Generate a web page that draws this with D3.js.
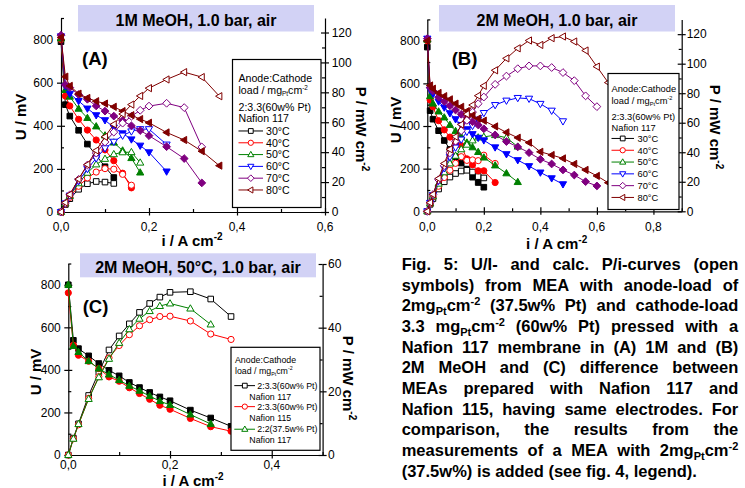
<!DOCTYPE html>
<html><head><meta charset="utf-8">
<script src="https://cdn.jsdelivr.net/npm/d3@7"></script>
<style>
body{margin:0;background:#fff;}
svg{display:block;font-family:Arial,"Liberation Sans",sans-serif;}
</style></head><body>
<svg id="c" width="745" height="488"></svg>
<script>
// ---------------- DATA ----------------
// Panel A: 1M MeOH, 1.0 bar, air  (i in A/cm2, U in mV, P in mW/cm2)
const iA30=[0,0.01,0.02,0.04,0.06,0.08,0.10,0.12];
const uA30=[790,498,445,379,315,262,210,160];
const pA30=[0,5.0,8.9,15.2,18.9,20.4,20.0,19.1];
const iA40=[0,0.01,0.02,0.04,0.06,0.08,0.10,0.12,0.14,0.16];
const uA40=[800,538,492,430,380,334,288,238,180,112];
const pA40=[0,5.4,9.8,17.2,22.8,26.7,29.0,28.6,25.2,17.9];
const iA50=[0,0.01,0.02,0.04,0.06,0.08,0.10,0.12,0.14,0.16,0.18];
const uA50=[805,566,535,479,436,397,355,322,285,250,183];
const pA50=[0,5.7,10.7,19.2,26.2,31.8,35.5,38.6,39.9,40.0,33.0];
const iA60=[0,0.01,0.02,0.04,0.06,0.08,0.10,0.12,0.14,0.16,0.18,0.20,0.24];
const uA60=[815,583,548,515,480,449,426,392,365,337,308,277,188];
const pA60=[0,5.8,11.0,20.6,28.8,35.9,42.6,47.0,51.1,53.9,55.4,55.4,45.1];
const iA70=[0,0.01,0.02,0.04,0.06,0.08,0.10,0.12,0.14,0.16,0.18,0.20,0.24,0.28,0.32];
const uA70=[820,590,577,545,523,492,468,445,424,400,378,354,303,248,135];
const pA70=[0,5.9,11.5,21.8,31.4,39.4,46.8,53.4,59.4,64.0,68.0,70.8,72.7,69.8,43.5];
const iA80=[0,0.01,0.02,0.04,0.06,0.08,0.10,0.12,0.14,0.16,0.18,0.20,0.24,0.28,0.32,0.36];
const uA80=[810,628,585,549,529,514,503,488,468,449,431,414,369,334,282,215];
const pA80=[0,6.3,11.7,22.0,31.7,41.1,50.3,58.6,65.5,71.8,77.6,82.8,88.6,93.5,90.2,77.4];

// Panel B: 2M MeOH, 1.0 bar, air
const iB30=[0,0.01,0.02,0.04,0.06,0.08,0.10,0.12,0.14,0.16,0.18,0.20];
const uB30=[770,472,432,378,332,290,256,226,198,160,135,113];
const pB30=[0,4.7,8.6,15.1,20.0,23.2,25.6,27.3,27.8,26.6,23.5,22.6];
const iB40=[0,0.01,0.02,0.04,0.06,0.08,0.10,0.12,0.14,0.16,0.18,0.20,0.24];
const uB40=[800,522,490,425,382,348,325,308,246,218,190,190,135];
const pB40=[0,5.2,9.8,17.0,22.9,27.8,32.5,37.0,34.5,34.8,34.3,38.0,32.4];
const iB50=[0,0.01,0.02,0.04,0.06,0.08,0.10,0.12,0.14,0.16,0.18,0.20,0.24,0.28,0.32];
const uB50=[805,540,505,468,440,405,376,350,322,300,278,252,215,178,137];
const pB50=[0,5.4,10.1,18.7,26.4,32.4,37.6,42.0,45.1,48.0,50.0,50.4,51.6,49.8,43.8];
const iB60=[0,0.01,0.02,0.04,0.06,0.08,0.10,0.12,0.14,0.16,0.18,0.20,0.24,0.28,0.32,0.36,0.40,0.44,0.48];
const uB60=[810,570,552,515,487,460,432,405,385,362,345,333,300,268,240,212,182,155,127];
const pB60=[0,5.7,11.0,20.6,29.2,36.8,43.2,48.6,53.9,57.9,62.1,66.6,72.0,75.0,76.8,76.3,72.8,68.2,61.0];
const iB70=[0,0.01,0.02,0.04,0.06,0.08,0.10,0.12,0.14,0.16,0.18,0.20,0.24,0.28,0.32,0.36,0.40,0.44,0.48,0.52,0.56,0.60];
const uB70=[810,580,565,535,515,495,475,455,440,420,405,387,358,327,302,275,244,222,194,170,139,119];
const pB70=[0,5.8,11.3,21.4,30.9,39.6,47.5,54.6,61.6,67.2,72.9,77.4,86.0,91.6,96.6,98.5,98.5,97.4,94.0,88.5,78.2,70.9];
const iB80=[0,0.01,0.02,0.04,0.06,0.08,0.10,0.12,0.14,0.16,0.18,0.20,0.24,0.28,0.32,0.36,0.40,0.44,0.48,0.52,0.56,0.60,0.64];
const uB80=[800,590,575,555,540,525,505,490,470,450,435,425,398,370,345,322,279,264,248,222,194,166,134];
const pB80=[0,5.9,11.5,22.2,32.4,42.0,50.5,58.8,65.8,72.0,78.3,85.0,95.5,103.6,110.4,115.7,112.7,117.3,118.4,115.0,108.9,98.0,87.2];

// Panel C: 2M MeOH, 50°C, 1.0 bar, air
const iC1=[0,0.01,0.02,0.04,0.06,0.08,0.10,0.12,0.14,0.16,0.18,0.20,0.24,0.28,0.32];
const uC1=[800,539,500,466,430,398,372,341,317,294,273,255,211,174,135];
const pC1=[0,5.3,9.8,18.7,26.0,33.0,37.4,41.2,44.8,47.6,49.6,51.1,51.3,49.0,43.5];
const iC2=[0,0.01,0.02,0.04,0.06,0.08,0.10,0.12,0.14,0.16,0.18,0.20,0.24,0.28,0.32];
const uC2=[762,516,469,441,406,367,347,316,289,262,234,215,172,133,112];
const pC2=[0,5.1,9.5,17.8,24.6,30.5,34.4,37.8,40.6,42.5,43.5,43.6,42.1,38.0,36.3];
const iC3=[0,0.01,0.02,0.04,0.06,0.08,0.10,0.12,0.14,0.16,0.18,0.20,0.24,0.28];
const uC3=[800,512,484,441,406,378,352,325,302,277,253,235,190,146];
const pC3=[0,5.1,9.7,17.6,24.4,30.2,35.2,39.5,42.8,45.2,46.8,47.6,46.0,41.0];

const tempLabels=["30°C","40°C","50°C","60°C","70°C","80°C"];
const cLabels=["2:3.3(60w% Pt)","2:3.3(60w% Pt)","2:2(37.5w% Pt)"];
const cMembranes=["Nafion 117","Nafion 115","Nafion 117"];

const xTicksA=[0,0.2,0.4,0.6], xMinorA=[0.1,0.3,0.5];
const xTicksB=[0,0.2,0.4,0.6,0.8], xMinorB=[0.1,0.3,0.5,0.7,0.9];
const xTicksC=[0,0.2,0.4], xMinorC=[0.1,0.3,0.5];
const uTicks=[0,200,400,600,800], uMinor=[100,300,500,700,900];
const pTicksAB=[0,20,40,60,80,100,120], pMinorAB=[10,30,50,70,90,110];
const pTicksC=[0,20,40,60], pMinorC=[10,30,50];

const captionLines=[
 "Fig. 5: U/I- and calc. P/i-curves (open",
 "symbols) from MEA with anode-load of",
 "2mg_{Pt}cm^{-2} (37.5w% Pt) and cathode-load",
 "3.3 mg_{Pt}cm^{-2} (60w% Pt) pressed with a",
 "Nafion 117 membrane in (A) 1M and (B)",
 "2M MeOH and (C) difference between",
 "MEAs prepared  with Nafion 117 and",
 "Nafion 115, having same electrodes. For",
 "comparison,  the results from the",
 "measurements of a MEA with 2mg_{Pt}cm^{-2}",
 "(37.5w%) is added (see fig. 4, legend)."
];

// ---------------- STYLE ----------------
const colors=["#000000","#ff0000","#008000","#0000ff","#800080","#800000"];
const shapes=["square","circle","up","down","diamond","left"];
const FONT='Arial,"Liberation Sans",sans-serif';

const SYM={
 square:{draw(c,s){const r=2.8*s;c.rect(-r,-r,2*r,2*r);}},
 circle:{draw(c,s){const r=3.1*s;c.moveTo(r,0);c.arc(0,0,r,0,2*Math.PI);}},
 up:{draw(c,s){const r=3.8*s;c.moveTo(0,-r);c.lineTo(r*0.95,r*0.65);c.lineTo(-r*0.95,r*0.65);c.closePath();}},
 down:{draw(c,s){const r=3.8*s;c.moveTo(0,r);c.lineTo(r*0.95,-r*0.65);c.lineTo(-r*0.95,-r*0.65);c.closePath();}},
 left:{draw(c,s){const r=3.8*s;c.moveTo(-r,0);c.lineTo(r*0.65,-r*0.95);c.lineTo(r*0.65,r*0.95);c.closePath();}},
 diamond:{draw(c,s){const r=3.9*s;c.moveTo(0,-r);c.lineTo(r,0);c.lineTo(0,r);c.lineTo(-r,0);c.closePath();}}
};
const sym=(shape,s)=>d3.symbol().type(SYM[shape]).size(s)();

const svg=d3.select("#c");
const fmtX=d=>d3.format(".1f")(d).replace(".",",");

function parseRich(str){
  return str.split(/(_\{[^}]*\}|\^\{[^}]*\})/).filter(p=>p.length).map(p=>
    p.startsWith("_{")?{t:p.slice(2,-1),k:"sub"}:p.startsWith("^{")?{t:p.slice(2,-1),k:"sup"}:{t:p,k:"n"});
}
function richText(sel,str,subSize,subDy,supDy){
  let cur=0;
  parseRich(str).forEach(seg=>{
    const target=seg.k==="sub"?subDy:seg.k==="sup"?-supDy:0;
    const ts=sel.append("tspan").text(seg.t);
    if(target-cur!==0) ts.attr("dy",target-cur);
    if(seg.k!=="n") ts.attr("font-size",subSize);
    cur=target;
  });
  return sel;
}

function drawPanel(cfg){
  const g=svg.append("g");
  const xs=d3.scaleLinear().domain(cfg.xDom).range([cfg.x0,cfg.x1]);
  const yl=d3.scaleLinear().domain(cfg.yLDom).range([cfg.yb,cfg.yt]);
  const yr=d3.scaleLinear().domain(cfg.yRDom).range([cfg.yb,cfg.ytR]);

  // axes
  const ax=g.append("g");
  const noLab=()=>"";
  const bot=ax.append("g").attr("transform",`translate(0,${cfg.yb})`);
  bot.append("g").call(d3.axisBottom(xs).tickValues(cfg.xMaj).tickSize(3.5).tickSizeOuter(0).tickFormat(noLab));
  bot.append("g").call(d3.axisBottom(xs).tickValues(cfg.xMaj).tickSize(-4).tickFormat(noLab)).select(".domain").remove();
  bot.append("g").call(d3.axisBottom(xs).tickValues(cfg.xMin).tickSize(-3).tickFormat(noLab)).select(".domain").remove();
  const lef=ax.append("g").attr("transform",`translate(${cfg.x0},0)`);
  lef.append("g").call(d3.axisLeft(yl).tickValues(cfg.yLMaj).tickSize(4).tickSizeOuter(0).tickFormat(noLab));
  lef.append("g").call(d3.axisLeft(yl).tickValues(cfg.yLMaj).tickSize(-4).tickFormat(noLab)).select(".domain").remove();
  lef.append("g").call(d3.axisLeft(yl).tickValues(cfg.yLMin).tickSize(-3).tickFormat(noLab)).select(".domain").remove();
  const rig=ax.append("g").attr("transform",`translate(${cfg.x1},0)`);
  rig.append("g").call(d3.axisRight(yr).tickValues(cfg.yRMaj).tickSize(4).tickSizeOuter(0).tickFormat(noLab));
  rig.append("g").call(d3.axisRight(yr).tickValues(cfg.yRMaj).tickSize(-4).tickFormat(noLab)).select(".domain").remove();
  rig.append("g").call(d3.axisRight(yr).tickValues(cfg.yRMin).tickSize(-3).tickFormat(noLab)).select(".domain").remove();
  ax.selectAll("path,line").attr("stroke","#000").attr("stroke-width",1.2);

  // tick labels
  const tl=g.append("g").attr("font-family",FONT).attr("font-size",12).attr("fill","#000");
  cfg.xMaj.forEach(v=>tl.append("text").attr("x",xs(v)).attr("y",cfg.yb+cfg.xLabOff).attr("text-anchor","middle").text(fmtX(v)));
  cfg.yLMaj.forEach(v=>tl.append("text").attr("x",cfg.x0-cfg.lGap).attr("y",yl(v)+4.3).attr("text-anchor","end").text(v));
  cfg.yRMaj.forEach(v=>tl.append("text").attr("x",cfg.x1+cfg.rGap).attr("y",yr(v)+4.3).attr("text-anchor","start").text(v));

  // axis titles
  const at=g.append("g").attr("font-family",FONT).attr("font-size",15).attr("font-weight","bold");
  at.append("text").attr("transform",`translate(${cfg.uLab[0]},${cfg.uLab[1]}) rotate(-90)`).attr("text-anchor","middle").text("U / mV");
  richText(at.append("text").attr("transform",`translate(${cfg.pLab[0]},${cfg.pLab[1]}) rotate(90)`).attr("text-anchor","middle"),"P / mW cm^{-2}",10,0,6);
  richText(at.append("text").attr("x",cfg.iLab[0]).attr("y",cfg.iLab[1]).attr("text-anchor","middle"),"i / A cm^{-2}",10,0,6);

  // data
  const dg=g.append("g");
  cfg.series.forEach(s=>{
    const lu=d3.line().x((d,k)=>xs(s.i[k])).y(d=>yl(d));
    const lp=d3.line().x((d,k)=>xs(s.i[k])).y(d=>yr(d));
    dg.append("path").attr("d",lu(s.u)).attr("fill","none").attr("stroke",s.color).attr("stroke-width",1);
    dg.append("g").selectAll("path").data(s.u).join("path")
      .attr("transform",(d,k)=>`translate(${xs(s.i[k])},${yl(d)})`)
      .attr("d",sym(s.shape,1)).attr("fill",s.color).attr("stroke",s.color).attr("stroke-width",1);
    dg.append("path").attr("d",lp(s.p)).attr("fill","none").attr("stroke",s.color).attr("stroke-width",1);
    dg.append("g").selectAll("path").data(s.p).join("path")
      .attr("transform",(d,k)=>`translate(${xs(s.i[k])},${yr(d)})`)
      .attr("d",sym(s.shape,1)).attr("fill","#fff").attr("stroke",s.color).attr("stroke-width",1);
  });

  // title box
  g.append("rect").attr("x",cfg.title.x).attr("y",cfg.title.y).attr("width",cfg.title.w).attr("height",cfg.title.h).attr("fill","#d2d2f5");
  g.append("text").attr("x",cfg.title.x+cfg.title.w/2).attr("y",cfg.title.base).attr("text-anchor","middle")
    .attr("font-family",FONT).attr("font-size",16).attr("font-weight","bold").text(cfg.title.text);
  g.append("text").attr("x",cfg.tag[0]).attr("y",cfg.tag[1]).attr("font-family",FONT).attr("font-size",18.5).attr("font-weight","bold").text(cfg.tag[2]);

  // legend
  const L=cfg.legend;
  const lg=g.append("g").attr("font-family",FONT).attr("font-size",L.fs);
  lg.append("rect").attr("x",L.x).attr("y",L.y).attr("width",L.w).attr("height",L.h).attr("fill","#fff").attr("stroke","#000").attr("stroke-width",1.2);
  L.header.forEach(h=>richText(lg.append("text").attr("x",L.tx).attr("y",h[1]),h[0],L.fs*0.6,2,4));
  cfg.series.forEach((s,k)=>{
    const y=L.ey[k]-L.fs*0.36;
    lg.append("line").attr("x1",L.lx[0]).attr("x2",L.lx[1]).attr("y1",y).attr("y2",y).attr("stroke",s.color).attr("stroke-width",1);
    lg.append("path").attr("transform",`translate(${L.sx},${y})`).attr("d",sym(s.shape,0.85)).attr("fill","#fff").attr("stroke",s.color).attr("stroke-width",1);
    lg.append("text").attr("x",L.etx).attr("y",L.ey[k]).text(s.label);
    if(s.sub) lg.append("text").attr("x",L.subx).attr("y",L.ey[k]+L.subdy).text(s.sub);
  });
}

const mk=(is,us,ps,labels)=>is.map((iv,k)=>({i:iv,u:us[k],p:ps[k],color:colors[k],shape:shapes[k],label:labels[k]}));

drawPanel({
  x0:61,x1:325,yb:212,yt:18,ytR:18,xDom:[0,0.6],yLDom:[0,900],yRDom:[0,129.7],
  xMaj:xTicksA,xMin:xMinorA,yLMaj:uTicks,yLMin:uMinor,yRMaj:pTicksAB,yRMin:pMinorAB,
  xLabOff:19.3,lGap:7.7,rGap:6.7,
  uLab:[26,117],pLab:[356,129],iLab:[192,245.5],
  title:{x:78,y:5,w:236,h:26.5,base:26,text:"1M MeOH, 1.0 bar, air"},
  tag:[82,64.5,"(A)"],
  series:mk([iA30,iA40,iA50,iA60,iA70,iA80],[uA30,uA40,uA50,uA60,uA70,uA80],[pA30,pA40,pA50,pA60,pA70,pA80],tempLabels),
  legend:{x:232.5,y:59.5,w:88.5,h:148,fs:10.6,tx:238.5,
    header:[["Anode:Cathode",82],["load / mg_{Pt}cm^{-2}",93.5],["2:3.3(60w% Pt)",111],["Nafion 117",122]],
    ey:[134.8,146.6,158.4,170.2,182,193.8],lx:[238.5,263],sx:250.8,etx:266}
});

drawPanel({
  x0:427.3,x1:681.7,yb:211.3,yt:19.4,ytR:19.4,xDom:[0,0.9],yLDom:[0,900],yRDom:[0,130],
  xMaj:xTicksB,xMin:xMinorB,yLMaj:uTicks,yLMin:uMinor,yRMaj:pTicksAB,yRMin:pMinorAB,
  xLabOff:19.5,lGap:7.3,rGap:5,
  uLab:[400.5,120],pLab:[709.6,127],iLab:[556.7,249],
  title:{x:439,y:5,w:236,h:26.5,base:26,text:"2M MeOH, 1.0 bar, air"},
  tag:[451.7,65,"(B)"],
  series:mk([iB30,iB40,iB50,iB60,iB70,iB80],[uB30,uB40,uB50,uB60,uB70,uB80],[pB30,pB40,pB50,pB60,pB70,pB80],tempLabels),
  legend:{x:608,y:73.5,w:71,h:136,fs:9.3,tx:611.5,
    header:[["Anode:Cathode",91.6],["load / mg_{Pt}cm^{-2}",104],["2:3.3(60w% Pt)",120],["Nafion 117",131]],
    ey:[141.8,153.6,165.4,177.2,189,200.8],lx:[611.5,634],sx:622.7,etx:637.5}
});

const seriesC=[iC1,iC2,iC3].map((iv,k)=>({i:iv,u:[uC1,uC2,uC3][k],p:[pC1,pC2,pC3][k],color:colors[k],shape:shapes[k],label:cLabels[k],sub:cMembranes[k]}));
drawPanel({
  x0:68.3,x1:322.6,yb:455,yt:263.5,ytR:264,xDom:[0,0.5],yLDom:[0,900],yRDom:[0,60],
  xMaj:xTicksC,xMin:xMinorC,yLMaj:uTicks,yLMin:uMinor,yRMaj:pTicksC,yRMin:pMinorC,
  xLabOff:14,lGap:7.5,rGap:5.4,
  uLab:[40.5,372],pLab:[343,378],iLab:[193,485.5],
  title:{x:80,y:253.3,w:236,h:24,base:273,text:"2M MeOH, 50°C, 1.0 bar, air"},
  tag:[82.7,312.7,"(C)"],
  series:seriesC,
  legend:{x:231,y:347.3,w:89,h:103,fs:8.8,tx:235,
    header:[["Anode:Cathode",363.1],["load / mg_{Pt}cm^{-2}",373.8]],
    ey:[388.8,409.8,432.4],lx:[234.3,255],sx:244.8,etx:257.3,subx:249.3,subdy:11}
});

// ---------------- CAPTION ----------------
(function(){
  const X0=401.7,X1=738.3,B0=270,STEP=20.67,FS=16.5;
  const cg=svg.append("g").attr("font-family",FONT).attr("font-size",FS).attr("font-weight","bold");
  captionLines.forEach((line,li)=>{
    const y=B0+li*STEP;
    const last=li===captionLines.length-1;
    if(last){ richText(cg.append("text").attr("x",X0).attr("y",y),line,11,4,6); return; }
    const words=line.split(/\s+/);
    const els=words.map(w=>richText(cg.append("text").attr("y",y),w,11,4,6));
    const widths=els.map(e=>e.node().getComputedTextLength());
    const total=d3.sum(widths);
    const gap=(X1-X0-total)/(words.length-1);
    let x=X0;
    els.forEach((e,k)=>{e.attr("x",x);x+=widths[k]+gap;});
  });
})();
</script>
</body></html>
